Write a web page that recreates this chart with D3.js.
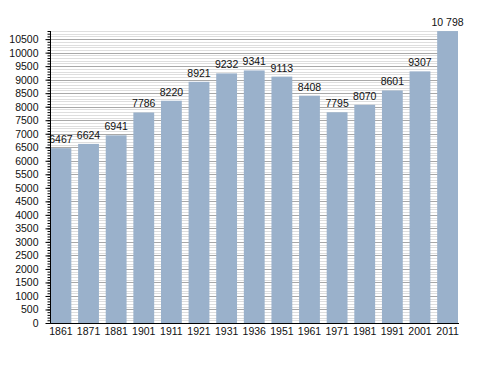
<!DOCTYPE html>
<html>
<head>
<meta charset="utf-8">
<script src="https://cdn.jsdelivr.net/npm/d3@7"></script>
<style>
  body { margin: 0; background: #fff; }
  text { font-family: "Liberation Sans", Arial, sans-serif; }
</style>
</head>
<body>
<div id="chart"></div>
<script>
// Census years and population
var years = ["1861", "1871", "1881", "1901", "1911", "1921", "1931", "1936",
  "1951", "1961", "1971", "1981", "1991", "2001", "2011"];
var population = [6467, 6624, 6941, 7786, 8220, 8921, 9232, 9341,
  9113, 8408, 7795, 8070, 8601, 9307, 10798];
var valueLabels = ["6467", "6624", "6941", "7786", "8220", "8921", "9232", "9341",
  "9113", "8408", "7795", "8070", "8601", "9307", "10 798"];
var yTickLabels = [0, 500, 1000, 1500, 2000, 2500, 3000, 3500, 4000, 4500, 5000,
  5500, 6000, 6500, 7000, 7500, 8000, 8500, 9000, 9500, 10000, 10500];
var yMax = 10800;

var svgWidth = 488;
var svgHeight = 373;

var svg = d3.select("#chart")
  .append("svg")
  .attr("width", svgWidth)
  .attr("height", svgHeight);

// plot box (top/left are window globals, so use other names)
var plotLeft = 50.5, plotRight = 458, plotTop = 31, plotBottom = 323;

var x = d3.scaleBand()
  .domain(years)
  .range([plotLeft, plotRight])
  .paddingInner(0.246)
  .paddingOuter(0);

var y = d3.scaleLinear()
  .domain([0, yMax])
  .range([plotBottom, plotTop]);

// minor grid every 100, major every 500
var minor = d3.range(100, yMax + 1, 100).filter(d => d % 500 !== 0);

svg.append("g")
  .selectAll("line")
  .data(minor)
  .enter()
  .append("line")
  .attr("x1", plotLeft)
  .attr("x2", plotRight)
  .attr("y1", d => Math.round(y(d)) + 0.5)
  .attr("y2", d => Math.round(y(d)) + 0.5)
  .attr("stroke", "#dedede")
  .attr("stroke-width", 1);

svg.append("g")
  .selectAll("line")
  .data(yTickLabels.slice(1))
  .enter()
  .append("line")
  .attr("x1", plotLeft)
  .attr("x2", plotRight)
  .attr("y1", d => Math.round(y(d)) + 0.5)
  .attr("y2", d => Math.round(y(d)) + 0.5)
  .attr("stroke", "#a8a8a8")
  .attr("stroke-width", 1);

// bars
svg.append("g")
  .selectAll("rect")
  .data(population)
  .enter()
  .append("rect")
  .attr("x", (d, i) => x(years[i]))
  .attr("y", d => y(d))
  .attr("width", x.bandwidth())
  .attr("height", d => plotBottom - y(d))
  .attr("fill", "#9ab1cb");

// value labels
svg.append("g")
  .selectAll("text")
  .data(population)
  .enter()
  .append("text")
  .attr("x", (d, i) => x(years[i]) + x.bandwidth() / 2)
  .attr("y", d => y(d) - 5)
  .attr("text-anchor", "middle")
  .attr("font-size", "10.5px")
  .attr("fill", "#111")
  .text((d, i) => valueLabels[i]);

// y axis with minor ticks
var yAxis = d3.axisLeft(y)
  .tickValues(yTickLabels)
  .tickSize(5)
  .tickPadding(7)
  .tickFormat(d => d);

var yMinorAxis = d3.axisLeft(y)
  .tickValues(d3.range(0, yMax + 1, 100))
  .tickSize(3)
  .tickFormat("");

svg.append("g")
  .attr("transform", `translate(${plotLeft}, 0)`)
  .call(yMinorAxis)
  .call(g => g.select(".domain").remove());

svg.append("g")
  .attr("transform", `translate(${plotLeft}, 0)`)
  .call(yAxis)
  .call(g => g.select(".domain").remove())
  .call(g => g.selectAll("text").attr("font-size", "10.5px").attr("font-family", "Liberation Sans, Arial, sans-serif").attr("fill", "#111"));

svg.append("line")
  .attr("x1", plotLeft).attr("x2", plotLeft)
  .attr("y1", plotTop).attr("y2", plotBottom + 0.5)
  .attr("stroke", "#000");

// x axis
var xAxis = d3.axisBottom(x).tickSize(0).tickPadding(4);

svg.append("g")
  .attr("transform", `translate(0, ${plotBottom + 0.5})`)
  .call(xAxis)
  .call(g => g.select(".domain").attr("d", `M${plotLeft},0H${plotRight + 1}`))
  .call(g => g.selectAll("text").attr("font-size", "10.5px").attr("font-family", "Liberation Sans, Arial, sans-serif").attr("fill", "#111"));
</script>
</body>
</html>
